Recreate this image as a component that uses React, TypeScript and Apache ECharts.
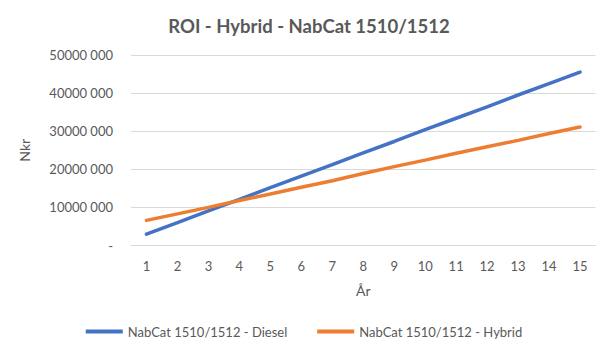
import React, { useEffect, useRef } from "react";
import * as echarts from "echarts";

const years = ["1", "2", "3", "4", "5", "6", "7", "8", "9", "10", "11", "12", "13", "14", "15"];
const dieselValues = [3.0, 6.0, 9.1, 12.1, 15.2, 18.2, 21.2, 24.3, 27.3, 30.4, 33.4, 36.4, 39.5, 42.5, 45.5].map((v) => v * 1e6);
const hybridValues = [6.6, 8.3, 10.0, 11.8, 13.5, 15.3, 17.0, 18.9, 20.7, 22.4, 24.2, 25.9, 27.6, 29.4, 31.1].map((v) => v * 1e6);
const seriesNames = ["NabCat 1510/1512 - Diesel", "NabCat 1510/1512 - Hybrid"];

const FONT = "Lato";
const GREY = "#595959";

export default function App() {
  const ref = useRef<HTMLDivElement>(null);
  useEffect(() => {
    if (!ref.current) return;
    const chart = echarts.init(ref.current, null, { renderer: "svg" });
    chart.setOption({
      animation: false,
      backgroundColor: "#ffffff",
      title: {
        text: "ROI - Hybrid - NabCat 1510/1512",
        left: 304,
        top: 11,
        textAlign: "center",
        textStyle: { fontFamily: FONT, fontSize: 18.5, fontWeight: "bold", color: GREY },
      },
      grid: { left: 131, right: 12.5, top: 55, bottom: 109.5, containLabel: false },
      legend: {
        bottom: 12,
        left: "center",
        icon: "rect",
        itemWidth: 37,
        itemHeight: 4,
        itemGap: 30,
        textStyle: { fontFamily: FONT, fontSize: 13, color: GREY },
        data: seriesNames,
      },
      xAxis: {
        type: "category",
        data: years,
        boundaryGap: true,
        name: "År",
        nameLocation: "middle",
        nameGap: 38,
        nameTextStyle: { fontFamily: FONT, fontSize: 14, color: GREY },
        axisLine: { lineStyle: { color: "#d9d9d9", width: 1 } },
        axisTick: { show: false },
        axisLabel: { fontFamily: FONT, fontSize: 13, color: GREY, margin: 14 },
      },
      yAxis: {
        type: "value",
        min: 0,
        max: 50000000,
        interval: 10000000,
        name: "Nkr",
        nameLocation: "middle",
        nameGap: 100,
        nameRotate: 90,
        nameTextStyle: { fontFamily: FONT, fontSize: 14, color: GREY },
        axisLine: { show: false },
        axisTick: { show: false },
        splitLine: { lineStyle: { color: "#d9d9d9", width: 1 } },
        axisLabel: {
          fontFamily: FONT,
          fontSize: 13,
          color: GREY,
          margin: 18,
          formatter: (v: number) => (v === 0 ? "-" : `${v / 1000} 000`),
        },
      },
      series: [
        {
          name: seriesNames[0],
          type: "line",
          data: dieselValues,
          symbol: "none",
          lineStyle: { color: "#4472C4", width: 3.5, cap: "round" },
          itemStyle: { color: "#4472C4" },
        },
        {
          name: seriesNames[1],
          type: "line",
          data: hybridValues,
          symbol: "none",
          lineStyle: { color: "#ED7D31", width: 3.5, cap: "round" },
          itemStyle: { color: "#ED7D31" },
        },
      ],
    });
    return () => chart.dispose();
  }, []);
  return <div ref={ref} style={{ width: 608, height: 355, position: "absolute", left: 0, top: 0 }} />;
}
